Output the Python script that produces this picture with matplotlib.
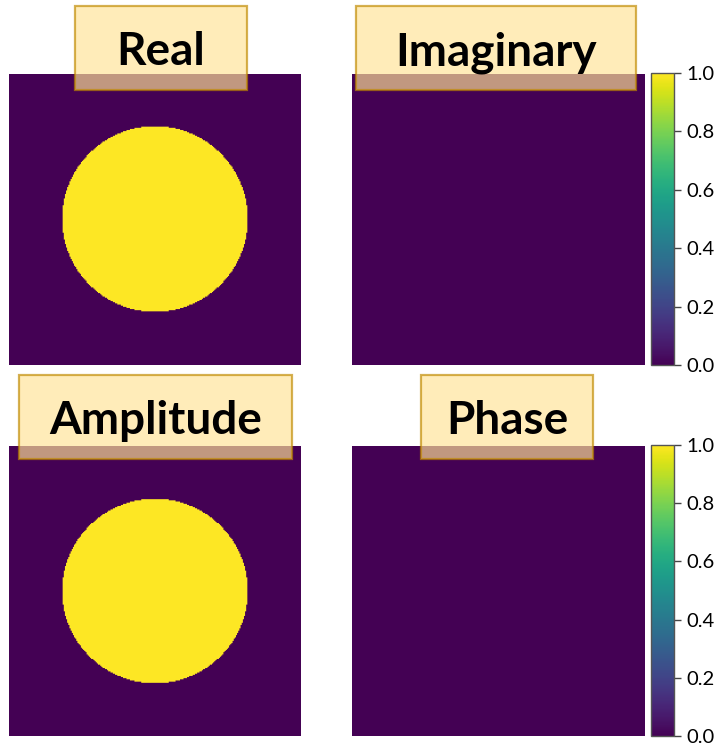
import matplotlib
matplotlib.use("Agg")
import matplotlib.pyplot as plt
import numpy as np
from matplotlib.patches import Rectangle


# circular aperture sampled on a square grid
GRID_SIZE = 256
APERTURE_RADIUS = 0.318  # fraction of the grid width
APERTURE_VALUE = 1.0

PANEL_TITLES = ["Real", "Imaginary", "Amplitude", "Phase"]
CBAR_TICKS = [0.0, 0.2, 0.4, 0.6, 0.8, 1.0]

FIG_W, FIG_H = 720, 745

# panel extents in pixels: (left, top, right, bottom)
PANEL_BOXES = [(9, 74, 301, 365), (352, 74, 645, 365),
               (9, 446, 301, 736), (352, 446, 645, 736)]
# title box extents in pixels: (left, top, right, bottom)
TITLE_BOXES = [(75, 6, 247, 90), (356, 6, 636, 90),
               (19, 375, 292, 459), (421, 375, 593, 459)]
CBAR_X = (651, 674)


def fig_rect(box):
    l, t, r, b = box
    return [l / FIG_W, 1 - b / FIG_H, (r - l) / FIG_W, (b - t) / FIG_H]


def make_field():
    coords = (np.arange(GRID_SIZE) + 0.5) / GRID_SIZE - 0.5
    xx, yy = np.meshgrid(coords, coords)
    mask = np.hypot(xx, yy) <= APERTURE_RADIUS
    return np.where(mask, APERTURE_VALUE, 0.0).astype(complex)


def main():
    field = make_field()
    panels = [field.real, field.imag, np.abs(field), np.angle(field)]

    fig = plt.figure(figsize=(FIG_W / 100, FIG_H / 100), dpi=100)

    for i, (title, data) in enumerate(zip(PANEL_TITLES, panels)):
        ax = fig.add_axes(fig_rect(PANEL_BOXES[i]))
        im = ax.imshow(data, cmap="viridis", vmin=0, vmax=1, aspect="auto")
        ax.axis("off")

        if i % 2 == 1:
            _, t, _, b = PANEL_BOXES[i]
            cax = fig.add_axes(fig_rect((CBAR_X[0], t - 1, CBAR_X[1], b)))
            cbar = fig.colorbar(im, cax=cax, ticks=CBAR_TICKS)
            cbar.ax.set_yticklabels([f"{v:.1f}" for v in CBAR_TICKS])
            cbar.ax.tick_params(labelsize=14.5, length=5, width=1, color="#444444", pad=4)
            for lbl in cbar.ax.get_yticklabels():
                lbl.set_fontfamily("Lato")
            cbar.outline.set_edgecolor("#555555")
            cbar.outline.set_linewidth(1.0)

        l, t, r, b = TITLE_BOXES[i]
        rect = Rectangle((l / FIG_W, 1 - b / FIG_H), (r - l) / FIG_W, (b - t) / FIG_H,
                         transform=fig.transFigure, facecolor="#FFE397", alpha=0.67,
                         edgecolor="#C08A00", linewidth=1.6, zorder=10)
        fig.add_artist(rect)
        fig.text((l + r) / 2 / FIG_W, 1 - (t + b) / 2 / FIG_H, title,
                 ha="center", va="center_baseline", fontsize=33, fontweight="bold",
                 family="Lato", color="black", zorder=11)

    fig.savefig("out.png", dpi=100)
    plt.close(fig)


if __name__ == "__main__":
    main()
